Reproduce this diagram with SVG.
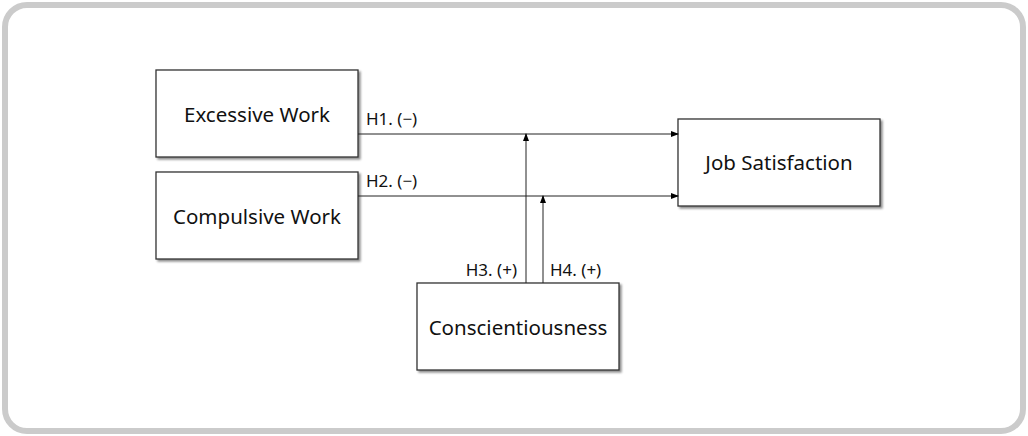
<svg xmlns="http://www.w3.org/2000/svg" width="1028" height="436" viewBox="0 0 1028 436">
<defs>
<marker id="arr" markerWidth="8" markerHeight="8" refX="7" refY="4" orient="auto" markerUnits="userSpaceOnUse">
<path d="M0,1 L8,4 L0,7 Z" fill="#000"/>
</marker>
<filter id="sh" x="-10%" y="-10%" width="130%" height="130%">
<feDropShadow dx="2" dy="2" stdDeviation="1.2" flood-color="#000" flood-opacity="0.45"/>
</filter>
</defs>
<style>
.box{fill:#fff;stroke:#333;stroke-width:1.3;filter:url(#sh)}
.t{font-family:"Noto Sans","Open Sans",sans-serif;font-size:20.5px;fill:#111;text-anchor:middle;dominant-baseline:central}
.l{font-family:"Noto Sans","Open Sans",sans-serif;font-size:17px;fill:#111}
.c{stroke:#222;stroke-width:1;fill:none}
</style>
<rect x="5" y="5" width="1018" height="426" rx="22" fill="#fff" stroke="#cbcbcb" stroke-width="6"/>
<g id="excessive">
<rect class="box" x="156" y="70" width="202" height="87"/>
<text class="t" x="257" y="114">Excessive Work</text>
</g>
<g id="compulsive">
<rect class="box" x="156" y="172" width="202" height="87"/>
<text class="t" x="257" y="216">Compulsive Work</text>
</g>
<g id="job">
<rect class="box" x="678" y="119" width="202" height="87"/>
<text class="t" x="779" y="162">Job Satisfaction</text>
</g>
<g id="consc">
<rect class="box" x="417" y="283" width="202" height="87"/>
<text class="t" x="518" y="327">Conscientiousness</text>
</g>
<g id="connectors">
<line class="c" x1="358" y1="134" x2="678" y2="134" marker-end="url(#arr)"/>
<line class="c" x1="358" y1="196" x2="678" y2="196" marker-end="url(#arr)"/>
<line class="c" x1="526" y1="283" x2="526" y2="134" marker-end="url(#arr)"/>
<line class="c" x1="543" y1="283" x2="543" y2="196" marker-end="url(#arr)"/>
<text class="l" x="366" y="125">H1. (−)</text>
<text class="l" x="366" y="187">H2. (−)</text>
<text class="l" x="517" y="276" text-anchor="end">H3. (+)</text>
<text class="l" x="550" y="276">H4. (+)</text>
</g>
</svg>
